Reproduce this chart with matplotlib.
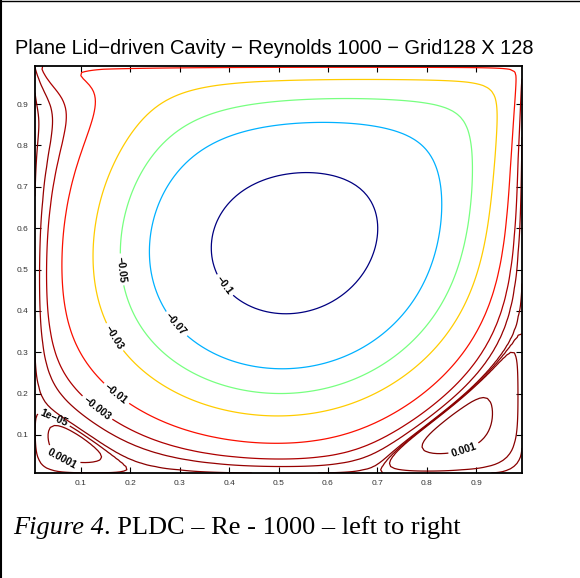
import numpy as np
import matplotlib
matplotlib.use("Agg")
import matplotlib.pyplot as plt
from matplotlib.lines import Line2D

# Cavity setup
RE = 1000.0
GRID = 128
LID_SPEED = 1.0

# Contour levels of the stream function and where their labels sit
LEVELS = [-0.1, -0.07, -0.05, -0.03, -0.01, -0.003, -0.001, -0.0001, 1e-05, 1e-04, 1e-03]
LABEL_LEVELS = [-0.1, -0.07, -0.05, -0.03, -0.01, -0.003, 1e-05, 1e-04, 1e-03]
LABEL_POS = [(0.378, 0.457), (0.297, 0.373), (0.174, 0.498), (0.160, 0.336),
             (0.174, 0.204), (0.129, 0.167), (0.042, 0.136), (0.069, 0.051),
             (0.873, 0.071)]
TICKS = [0.1, 0.2, 0.3, 0.4, 0.5, 0.6, 0.7, 0.8, 0.9]

TITLE = "Plane Lid\u2212driven Cavity \u2212 Reynolds 1000 \u2212 Grid128 X 128"
CAPTION_IT = "Figure 4"
CAPTION = ". PLDC \u2013 Re - 1000 \u2013 left to right"


def dst1(a):
    # DST-I along the last axis through a real FFT
    n = a.shape[-1]
    z = np.zeros(a.shape[:-1] + (2 * n + 2,))
    z[..., 1:n + 1] = a
    z[..., n + 2:] = -a[..., ::-1]
    return -np.fft.rfft(z, axis=-1).imag[..., 1:n + 1] / 2


def dst2(a):
    return dst1(dst1(a).T).T


def solve(w, n_cells, dt, t_end):
    # stream function / vorticity, central differences, RK4 in time
    h = 1.0 / n_cells
    m = n_cells - 1
    k = np.arange(1, m + 1)
    lam = 4 * np.sin(np.pi * k / (2 * n_cells)) ** 2 / h ** 2
    denom = lam[:, None] + lam[None, :]
    scale = (2.0 / (m + 1)) ** 2
    psi = np.zeros_like(w)

    def rhs(w):
        psi[1:-1, 1:-1] = dst2(dst2(w[1:-1, 1:-1]) / denom) * scale
        w[0, :] = -2 * psi[1, :] / h ** 2
        w[-1, :] = -2 * psi[-2, :] / h ** 2 - 2 * LID_SPEED / h
        w[:, 0] = -2 * psi[:, 1] / h ** 2
        w[:, -1] = -2 * psi[:, -2] / h ** 2
        u = (psi[2:, 1:-1] - psi[:-2, 1:-1]) / (2 * h)
        v = -(psi[1:-1, 2:] - psi[1:-1, :-2]) / (2 * h)
        wx = (w[1:-1, 2:] - w[1:-1, :-2]) / (2 * h)
        wy = (w[2:, 1:-1] - w[:-2, 1:-1]) / (2 * h)
        lap = (w[1:-1, 2:] + w[1:-1, :-2] + w[2:, 1:-1] + w[:-2, 1:-1]
               - 4 * w[1:-1, 1:-1]) / h ** 2
        return -u * wx - v * wy + lap / RE

    steps = int(round(t_end / dt))
    for _ in range(steps):
        w0 = w[1:-1, 1:-1].copy()
        k1 = rhs(w)
        w[1:-1, 1:-1] = w0 + 0.5 * dt * k1
        k2 = rhs(w)
        w[1:-1, 1:-1] = w0 + 0.5 * dt * k2
        k3 = rhs(w)
        w[1:-1, 1:-1] = w0 + dt * k3
        k4 = rhs(w)
        w[1:-1, 1:-1] = w0 + dt / 6 * (k1 + 2 * k2 + 2 * k3 + k4)
    rhs(w)
    return w, psi.copy()


# coarse run first, then refine to the full grid
half = GRID // 2
w, _ = solve(np.zeros((half + 1, half + 1)), half, 0.025, 60.0)
wf = np.zeros((GRID + 1, GRID + 1))
wf[::2, ::2] = w
wf[1::2, ::2] = 0.5 * (w[:-1, :] + w[1:, :])
wf[:, 1::2] = 0.5 * (wf[:, :-2:2] + wf[:, 2::2])
wf, psi = solve(wf, GRID, 0.01, 25.0)

x = np.arange(1, GRID) / GRID
psi_in = psi[1:-1, 1:-1]

plt.rcParams["font.family"] = ["Liberation Sans", "DejaVu Sans"]
fig = plt.figure(figsize=(5.8, 5.78), dpi=100)
ax = fig.add_axes([35 / 580, 105 / 578, 487 / 580, 407 / 578])

cs = ax.contour(x, x, psi_in, levels=LEVELS, cmap="jet", linewidths=0.9)
ax.set_xlim(x[0], x[-1])
ax.set_ylim(x[0], x[-1])


def fmt(v):
    return ("%g" % v).replace("-", "\u2212")


# snap each label spot onto its own level line
spots = []
for lvl, pos in zip(LABEL_LEVELS, LABEL_POS):
    segs = cs.allsegs[LEVELS.index(lvl)]
    if not segs:
        continue
    pts = np.vstack(segs)
    d = (pts[:, 0] - pos[0]) ** 2 + (pts[:, 1] - pos[1]) ** 2
    spots.append(tuple(pts[np.argmin(d)]))
ax.clabel(cs, manual=spots, fmt=fmt, fontsize=7.5, colors="k", inline_spacing=3)
for t in cs.labelTexts:
    t.set_fontweight("bold")

ax.set_xticks(TICKS)
ax.set_yticks(TICKS)
ax.set_xticklabels([str(t) for t in TICKS])
ax.set_yticklabels([str(t) for t in TICKS])
ax.tick_params(direction="in", top=True, right=True, length=4, width=0.8,
               labelsize=6, pad=5, labelcolor="#333333")
for s in ax.spines.values():
    s.set_linewidth(1.3)

fig.text(274 / 580, 1 - 54 / 578, TITLE, ha="center", va="baseline", fontsize=14.4)

cap = fig.text(13 / 580, 1 - 534 / 578, CAPTION_IT, family="Liberation Serif",
               style="italic", fontsize=19, va="baseline")
fig.canvas.draw()
bb = cap.get_window_extent()
fig.text(bb.x1 / fig.bbox.width, 1 - 534 / 578, CAPTION, family="Liberation Serif",
         fontsize=19, va="baseline")

fig.add_artist(Line2D([0.8 / 580, 0.8 / 580], [0, 1], color="k", lw=1.5,
                      transform=fig.transFigure))
fig.add_artist(Line2D([0, 1], [1 - 0.5 / 578, 1 - 0.5 / 578], color="k", lw=1,
                      transform=fig.transFigure))

fig.savefig("out.png", dpi=100)
